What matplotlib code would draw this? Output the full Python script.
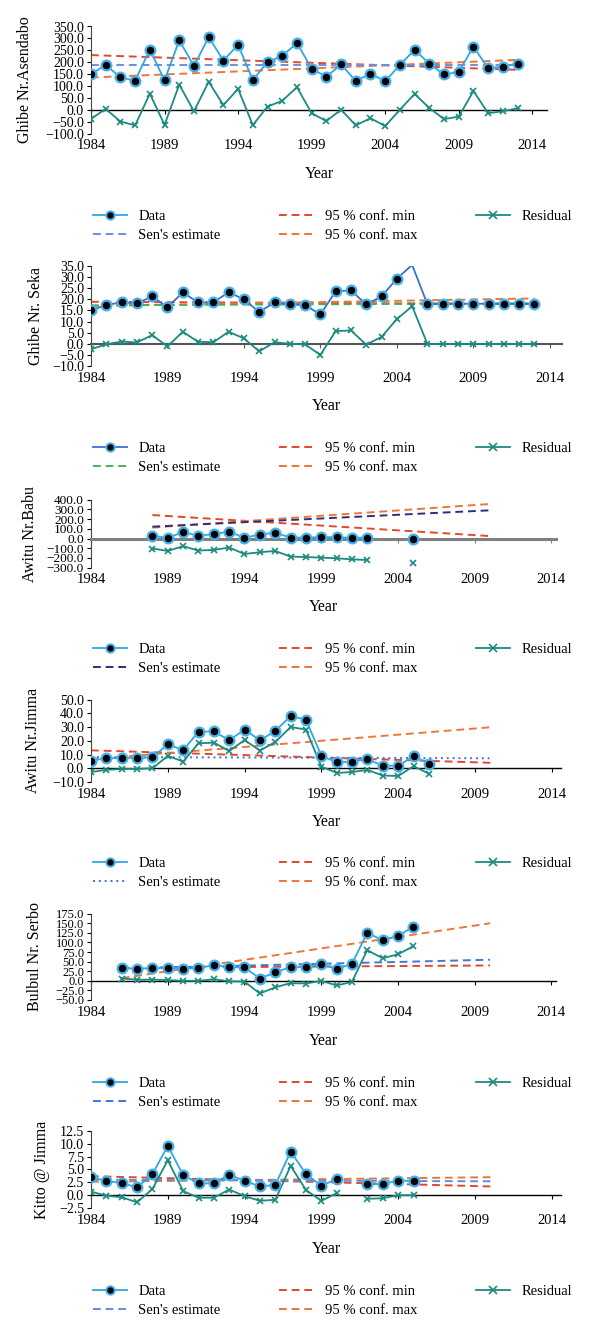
import matplotlib
matplotlib.use("Agg")
import matplotlib.pyplot as plt
from matplotlib.lines import Line2D
import numpy as np

plt.rcParams['font.family'] = ['Liberation Serif', 'DejaVu Serif']
plt.rcParams['axes.unicode_minus'] = True

nan = np.nan

# ---------------- data ----------------
# Ghibe Nr.Asendabo
asen_years = list(range(1984, 2014))
asen_data = [150, 189, 136, 123, 253, 124, 292, 184, 306, 207, 273, 125, 201, 226, 281,
             173, 139, 191, 121, 152, 120, 189, 252, 194, 149, 159, 266, 174, 182, 194]
asen_resid = [-38, 4, -49, -65, 68, -63, 106, -6, 118, 20, 88, -64, 14, 38, 95,
              -14, -47, 1, -65, -35, -68, 1, 67, 8, -39, -28, 79, -14, -6, 7]
asen_trend_years = [1984, 2013]
asen_sen = [188, 188]
asen_min = [230, 168]
asen_max = [136, 210]

# Ghibe Nr. Seka
seka_years = list(range(1984, 2014))
seka_data = [15.0, 17.5, 18.6, 18.2, 21.3, 16.4, 23.1, 18.6, 18.6, 23.2, 20.0, 14.3, 18.6, 17.8, 17.4,
             13.2, 23.6, 24.0, 17.7, 21.3, 29.3, 35.5, 17.8, 18.0, 18.0, 18.0, 18.0, 18.0, 18.0, 18.0]
seka_resid = [-2.5, -0.2, 1.0, 0.6, 3.9, -1.2, 5.4, 0.9, 0.7, 5.4, 2.4, -3.4, 0.7, 0.0, -0.3,
              -5.0, 5.7, 6.0, -0.4, 3.1, 11.1, 16.9, -0.1, -0.1, -0.1, -0.1, -0.1, -0.1, -0.1, -0.1]
seka_trend_years = [1984, 2013]
seka_sen = [17.3, 18.2]
seka_min = [18.9, 17.9]
seka_max = [17.0, 20.4]

# Awitu Nr.Babu
babu_years = list(range(1988, 2006))
babu_data = [28, 7, 66, 28, 45, 72, 7, 41, 59, 10, 10, 14, 14, 7, 10, nan, nan, -3]
babu_resid = [-103, -128, -79, -124, -117, -93, -159, -141, -128, -186, -190, -197, -203, -214, -221,
              nan, nan, -252]
babu_trend_years = [1988, 2010]
babu_sen = [122, 290]
babu_min = [241, 25]
babu_max = [112, 355]

# Awitu Nr.Jimma
jimma_years = list(range(1984, 2007))
jimma_data = [5.6, 7.3, 7.5, 7.5, 8.0, 17.5, 13.3, 26.5, 27.0, 20.4, 28.2, 20.4, 27.2, 38.1, 35.4,
              9.0, 4.4, 4.9, 6.6, 1.9, 1.7, 9.0, 3.2]
jimma_resid = [-2.7, -1.2, -0.5, -0.5, 0.0, 9.0, 4.9, 18.2, 18.7, 12.6, 20.6, 12.9, 19.2, 30.1, 28.2,
               1.2, -3.4, -2.7, -1.2, -5.3, -5.6, 1.5, -3.9]
jimma_trend_years = [1984, 2010]
jimma_sen = [8.2, 7.3]
jimma_min = [13.1, 4.0]
jimma_max = [6.6, 29.9]

# Bulbul Nr. Serbo
serbo_years = list(range(1986, 2006))
serbo_data = [33, 32, 33, 33, 32, 33, 41, 36, 35, 6, 22, 36, 36, 43, 31, 44, 125, 106, 117, 141]
serbo_resid = [6, 3, 3, 2, 0, 0, 4, -1, -2, -33, -17, -6, -7, 0, -12, -3, 80, 59, 69, 90]
serbo_trend_years = [1986, 2010]
serbo_sen = [32, 55]
serbo_min = [34, 40]
serbo_max = [7, 150]

# Kitto @ Jimma
kitto_years = list(range(1984, 2006))
kitto_data = [3.6, 2.7, 2.4, 1.5, 4.1, 9.6, 3.9, 2.3, 2.3, 4.0, 2.8, 1.7, 2.0, 8.5, 4.1,
              1.8, 3.2, nan, 2.1, 2.2, 2.8, 2.8]
kitto_resid = [0.7, -0.1, -0.4, -1.4, 1.2, 6.8, 0.8, -0.5, -0.5, 1.1, -0.2, -1.1, -0.9, 5.7, 1.0,
               -1.1, 0.4, nan, -0.7, -0.6, 0.0, 0.0]
kitto_trend_years = [1984, 2010]
kitto_sen = [3.0, 2.7]
kitto_min = [3.7, 1.7]
kitto_max = [2.6, 3.5]

W, H = 600, 1337
fig = plt.figure(figsize=(W / 100, H / 100), dpi=100)

light_blue = '#2fa7e6'
teal = '#1b8a80'
red_min = '#e4472b'
org_max = '#ef7637'


def px_axes(left, right, top, bottom):
    return fig.add_axes([left / W, 1 - bottom / H, (right - left) / W, (bottom - top) / H])


def panel(years, data, resid, tyears, sen, cmin, cmax, ylim, ystep, ylabel,
          top, bottom, xmax, right, ylab_x, year_y, leg_y,
          data_color=light_blue, sen_color='#6b8fdc', sen_ls=(0, (4, 2.5)),
          zero_color='black', zero_lw=1.0, skip=(), ytick_fs=10):
    left = 91
    ax = px_axes(left, right, top, bottom)
    ax.set_xlim(1984, xmax)
    ax.set_ylim(*ylim)
    dash = (0, (4, 2.5))
    ax.plot(tyears, cmin, color=red_min, lw=1.4, ls=dash, zorder=2)
    ax.plot(tyears, cmax, color=org_max, lw=1.4, ls=dash, zorder=2)
    ax.plot(tyears, sen, color=sen_color, lw=1.4, ls=sen_ls, zorder=2)
    ax.plot(years, resid, color=teal, lw=1.3, marker='x', ms=5, mew=1.2, zorder=3)
    d = np.array(data, dtype=float)
    keep = [i for i in range(len(d)) if i not in skip]
    ax.plot(years, d, color=data_color, lw=1.3, zorder=4)
    ax.plot(np.array(years)[keep], d[keep], ls='none', marker='o', ms=7, mfc='black',
            mec='#45b0ea', mew=1.6, zorder=5)

    # Excel-like axes: horizontal axis crosses at zero, year labels stay at the bottom
    for s in ['top', 'right']:
        ax.spines[s].set_visible(False)
    ax.spines['left'].set_color('#444444')
    ax.spines['left'].set_linewidth(0.8)
    ax.spines['bottom'].set_position(('data', 0))
    ax.spines['bottom'].set_color(zero_color)
    ax.spines['bottom'].set_linewidth(zero_lw)
    ax.set_xticks(range(1984, 2015, 5))
    ax.tick_params(axis='x', direction='out', length=3, width=0.8, labelbottom=False,
                   color=zero_color)
    ax.set_yticks(np.arange(ylim[0], ylim[1] + ystep / 2, ystep))
    ax.yaxis.set_major_formatter(matplotlib.ticker.FuncFormatter(
        lambda v, p: ('%.1f' % v).replace('-', '\u2212')))
    ax.tick_params(axis='y', direction='out', length=3, width=0.8, labelsize=ytick_fs, pad=2)
    sec = ax.secondary_xaxis('bottom')
    sec.set_xticks(range(1984, 2015, 5))
    sec.spines['bottom'].set_visible(False)
    sec.tick_params(length=0, labelsize=10.5, pad=4)

    fig.text(ylab_x / W, 1 - (top + bottom) / 2 / H, ylabel, rotation=90,
             ha='center', va='center', fontsize=11.5)
    fig.text((left + right) / 2 / W, 1 - year_y / H, 'Year', ha='center', va='center',
             fontsize=11.5)

    handles = [
        Line2D([], [], color=data_color, lw=1.3, marker='o', ms=6, mfc='black', mec='#45b0ea', mew=1.4),
        Line2D([], [], color=sen_color, lw=1.4, ls=sen_ls),
        Line2D([], [], color=red_min, lw=1.4, ls=dash),
        Line2D([], [], color=org_max, lw=1.4, ls=dash),
        Line2D([], [], color=teal, lw=1.3, marker='x', ms=6, mew=1.2),
    ]
    labels = ['Data', "Sen's estimate", '95 % conf. min', '95 % conf. max', 'Residual']
    fig.legend(handles, labels, ncol=3, loc='center', mode='expand', frameon=False,
               bbox_to_anchor=(93 / W, 1 - (leg_y + 20) / H, (572 - 93) / W, 20 / H),
               fontsize=10.5, handlelength=2.3, handletextpad=0.8, labelspacing=0.35,
               borderpad=0, borderaxespad=0)
    return ax


panel(asen_years, asen_data, asen_resid, asen_trend_years, asen_sen, asen_min, asen_max,
      (-100, 350), 50, 'Ghibe Nr.Asendabo', 26.5, 133.7, 2015, 547, 25, 174, 216)
panel(seka_years, seka_data, seka_resid, seka_trend_years, seka_sen, seka_min, seka_max,
      (-10, 35), 5, 'Ghibe Nr. Seka', 266, 366, 2014.8, 562, 36, 406, 448,
      data_color='#3a6fd2', sen_color='#4caf50', zero_color='#555555', zero_lw=1.5, skip=(21,))
panel(babu_years, babu_data, babu_resid, babu_trend_years, babu_sen, babu_min, babu_max,
      (-300, 400), 100, 'Awitu Nr.Babu', 499.6, 567.7, 2014.3, 556, 30, 607, 649,
      sen_color='#2c2f7c', zero_color='#808080', zero_lw=2.2, ytick_fs=9.5)
panel(jimma_years, jimma_data, jimma_resid, jimma_trend_years, jimma_sen, jimma_min, jimma_max,
      (-10, 50), 10, 'Awitu Nr.Jimma', 699.7, 782, 2014.6, 561, 33, 822, 863,
      sen_color='#3f6fe0', sen_ls=(0, (1, 2)))
panel(serbo_years, serbo_data, serbo_resid, serbo_trend_years, serbo_sen, serbo_min, serbo_max,
      (-50, 175), 25, 'Bulbul Nr. Serbo', 913.7, 1000, 2014.3, 556, 35, 1041, 1083,
      sen_color='#3c78d8', ytick_fs=9)
panel(kitto_years, kitto_data, kitto_resid, kitto_trend_years, kitto_sen, kitto_min, kitto_max,
      (-2.5, 12.5), 2.5, 'Kitto @ Jimma', 1131, 1208, 2014.6, 561, 42, 1249, 1291,
      sen_color='#5c8fe0')

fig.savefig('out.png', dpi=100)
